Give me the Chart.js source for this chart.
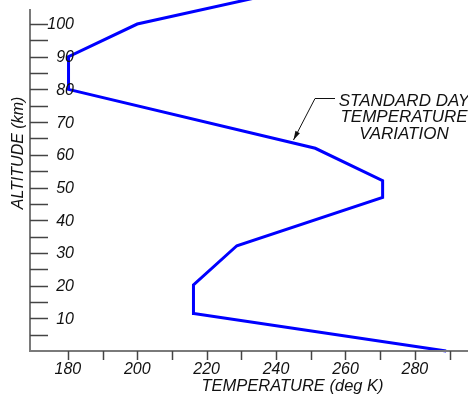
<!DOCTYPE html>
<html>
<head>
<meta charset="utf-8">
<script src="https://cdn.jsdelivr.net/npm/chart.js@4/dist/chart.umd.min.js"></script>
<style>
  html, body { margin: 0; padding: 0; background: #fff; }
  #wrap { width: 468px; height: 398px; }
</style>
</head>
<body>
<div id="wrap"><canvas id="myChart" width="468" height="398"></canvas></div>
<script>
'use strict'

// standard day profile
var temps = [289, 216.3, 216.2, 228.7, 270.7, 270.7, 251.3, 180.2, 180.2, 200, 234];
var alts = [0, 11.5, 20.2, 32.2, 47, 52.1, 62, 80, 90, 100, 108];

// axis ticks
var xTicks = [180, 190, 200, 210, 220, 230, 240, 250, 260, 270, 280, 290];
var xLabels = [180, 200, 220, 240, 260, 280];
var yTicks = [5, 10, 15, 20, 25, 30, 35, 40, 45, 50, 55, 60, 65, 70, 75, 80, 85, 90, 95, 100];
var yLabels = [10, 20, 30, 40, 50, 60, 70, 80, 90, 100];

var points = temps.map(function(t, i) {
  return { x: t, y: alts[i] };
});

var FONT = '"Liberation Sans", Arial, sans-serif';

// axes, ticks, titles and the callout, drawn through the chart's scales
var axesPlugin = {
  id: 'axesPlugin',
  afterDraw: function(chart) {
    var c = chart.ctx;
    var xs = chart.scales.x;
    var ys = chart.scales.y;
    var area = chart.chartArea;
    c.save();

    // axis lines
    c.strokeStyle = '#7a7a7a';
    c.lineWidth = 2;
    c.beginPath();
    c.moveTo(area.left, area.top);
    c.lineTo(area.left, area.bottom);
    c.lineTo(area.right, area.bottom);
    c.stroke();

    // y ticks point into the plot
    c.strokeStyle = '#444';
    c.lineWidth = 1.5;
    yTicks.forEach(function(v) {
      var py = Math.round(ys.getPixelForValue(v)) + 0.5;
      c.beginPath();
      c.moveTo(area.left, py);
      c.lineTo(area.left + 18, py);
      c.stroke();
    });
    // x ticks point down
    xTicks.forEach(function(v) {
      var px = Math.round(xs.getPixelForValue(v)) + 0.5;
      c.beginPath();
      c.moveTo(px, area.bottom);
      c.lineTo(px, area.bottom + 9);
      c.stroke();
    });

    c.fillStyle = '#111';
    c.font = 'italic 16px ' + FONT;
    c.textBaseline = 'middle';
    c.textAlign = 'right';
    yLabels.forEach(function(v) {
      c.fillText(String(v), area.left + 44, ys.getPixelForValue(v) + 1);
    });
    c.textAlign = 'center';
    xLabels.forEach(function(v) {
      c.fillText(String(v), xs.getPixelForValue(v), area.bottom + 19);
    });

    // titles
    c.font = 'italic 16.5px ' + FONT;
    c.fillText('TEMPERATURE (deg K)', 292.5, 386);
    c.save();
    c.translate(18.5, 153);
    c.rotate(-Math.PI / 2);
    c.font = 'italic 16px ' + FONT;
    c.fillText('ALTITUDE (km)', 0, 0);
    c.restore();

    // callout
    c.font = 'italic 17px ' + FONT;
    c.fillText('STANDARD DAY', 404, 101);
    c.fillText('TEMPERATURE', 404, 117.5);
    c.fillText('VARIATION', 404, 134.5);

    c.strokeStyle = '#111';
    c.lineWidth = 1;
    var tipX = 293.5, tipY = 140;
    var kx = 315, ky = 98.5;
    c.beginPath();
    c.moveTo(335, ky);
    c.lineTo(kx, ky);
    c.lineTo(tipX, tipY);
    c.stroke();
    var ang = Math.atan2(tipY - ky, tipX - kx);
    c.beginPath();
    c.moveTo(tipX, tipY);
    c.lineTo(tipX - 9 * Math.cos(ang) + 2.5 * Math.sin(ang), tipY - 9 * Math.sin(ang) - 2.5 * Math.cos(ang));
    c.lineTo(tipX - 9 * Math.cos(ang) - 2.5 * Math.sin(ang), tipY - 9 * Math.sin(ang) + 2.5 * Math.cos(ang));
    c.closePath();
    c.fillStyle = '#111';
    c.fill();

    c.restore();
  }
};

var ctx = document.getElementById('myChart').getContext('2d');

var chart = new Chart(ctx, {
  type: 'scatter',
  data: {
    datasets: [{
      label: 'Standard day',
      data: points,
      showLine: true,
      borderColor: '#0000ff',
      backgroundColor: '#0000ff',
      borderWidth: 3,
      borderJoinStyle: 'miter',
      pointRadius: 0,
      tension: 0,
      clip: false
    }]
  },
  options: {
    responsive: false,
    animation: false,
    devicePixelRatio: 1,
    layout: { padding: { left: 30, top: 9, right: 0, bottom: 47 } },
    plugins: {
      legend: { display: false },
      tooltip: { enabled: false }
    },
    scales: {
      x: { type: 'linear', min: 169.1, max: 295.3, display: false },
      y: { type: 'linear', min: 0, max: 104.6, display: false }
    }
  },
  plugins: [axesPlugin]
});
</script>
</body>
</html>
